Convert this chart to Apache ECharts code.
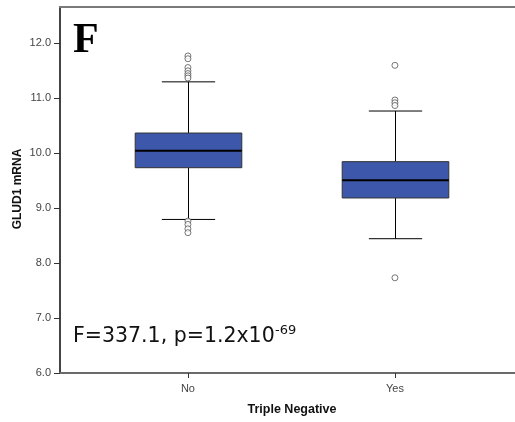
<!DOCTYPE html>
<html>
<head>
<meta charset="utf-8">
<script src="https://cdn.jsdelivr.net/npm/echarts@6/dist/echarts.min.js"></script>
<style>
html,body{margin:0;padding:0;background:#fff;}
#chart{width:515px;height:422px;}
</style>
</head>
<body>
<div id="chart"></div>
<script>
// ---- data ----
const categories = ['No', 'Yes'];
const whiskerLow  = [8.79, 8.44];
const q1          = [9.73, 9.18];
const median      = [10.04, 9.50];
const q3          = [10.36, 9.84];
const whiskerHigh = [11.29, 10.76];
const outliersNo  = [11.76, 11.71, 11.55, 11.49, 11.44, 11.40, 11.36, 8.76, 8.70, 8.62, 8.55];
const outliersYes = [11.59, 10.96, 10.91, 10.86, 7.73];
const yTicks      = [6, 7, 8, 9, 10, 11, 12];

const boxData = categories.map((c, i) => [i, whiskerLow[i], q1[i], median[i], q3[i], whiskerHigh[i]]);
const outlierData = outliersNo.map(v => [0, v]).concat(outliersYes.map(v => [1, v]));

const BOX_W = 0.515;

function renderBox(params, api) {
  const x = api.value(0);
  const lo = api.coord([x, api.value(1)]);
  const b1 = api.coord([x, api.value(2)]);
  const md = api.coord([x, api.value(3)]);
  const b3 = api.coord([x, api.value(4)]);
  const hi = api.coord([x, api.value(5)]);
  const bw = api.size([BOX_W, 0])[0];
  const cw = bw / 2;
  const cx = Math.round(lo[0]) + 0.5;
  const lineStyle = { stroke: '#000', lineWidth: 1 };
  return {
    type: 'group',
    children: [
      { type: 'line', shape: { x1: cx, y1: lo[1], x2: cx, y2: b1[1] }, style: lineStyle },
      { type: 'line', shape: { x1: cx, y1: b3[1], x2: cx, y2: hi[1] }, style: lineStyle },
      { type: 'line', shape: { x1: cx - cw / 2, y1: lo[1], x2: cx + cw / 2, y2: lo[1] }, style: lineStyle },
      { type: 'line', shape: { x1: cx - cw / 2, y1: hi[1], x2: cx + cw / 2, y2: hi[1] }, style: lineStyle },
      { type: 'rect', shape: { x: cx - bw / 2, y: b3[1], width: bw, height: b1[1] - b3[1] },
        style: { fill: '#3d58aa', stroke: '#333', lineWidth: 1 } },
      { type: 'line', shape: { x1: cx - bw / 2, y1: md[1], x2: cx + bw / 2, y2: md[1] },
        style: { stroke: '#000', lineWidth: 2 } }
    ]
  };
}

const chart = echarts.init(document.getElementById('chart'), null, { renderer: 'canvas' });
chart.setOption({
  animation: false,
  backgroundColor: '#fff',
  grid: { left: 60, right: 0, top: 7, bottom: 49, containLabel: false, outerBoundsMode: 'none' },
  xAxis: [{
    type: 'value',
    min: -0.618, max: 1.580,
    splitLine: { show: false },
    axisLine: { show: true, onZero: false, lineStyle: { color: '#6a6a6a', width: 2 } },
    axisTick: { show: true, customValues: [0, 1], length: 5, lineStyle: { color: '#333', width: 1 } },
    axisLabel: { customValues: [0, 1], formatter: v => categories[Math.round(v)], color: '#444',
      fontFamily: 'Liberation Sans, Arial, sans-serif', fontSize: 11, margin: 10 },
    name: 'Triple Negative',
    nameLocation: 'middle',
    nameGap: 30,
    nameTextStyle: { fontFamily: 'Liberation Sans, Arial, sans-serif', fontWeight: 'bold', fontSize: 12.5, color: '#111',
      padding: [0, 0, 0, 9] }
  }, {
    type: 'value',
    position: 'top',
    min: -0.618, max: 1.580,
    splitLine: { show: false },
    axisLine: { show: true, onZero: false, lineStyle: { color: '#7a7a7a', width: 2 } },
    axisTick: { show: false },
    axisLabel: { show: false }
  }],
  yAxis: {
    type: 'value',
    min: 6, max: 12.65,
    splitLine: { show: false },
    axisLine: { show: true, onZero: false, lineStyle: { color: '#444', width: 2 } },
    axisTick: { show: true, customValues: yTicks, length: 6, lineStyle: { color: '#333' } },
    axisLabel: { customValues: yTicks, formatter: v => v.toFixed(1), color: '#444',
      fontFamily: 'Liberation Sans, Arial, sans-serif', fontSize: 11, margin: 9 }
  },
  series: [
    { type: 'custom', renderItem: renderBox, data: boxData, encode: { x: 0, y: [1, 2, 3, 4, 5] }, z: 3 },
    { type: 'scatter', data: outlierData, symbol: 'circle', symbolSize: 6,
      itemStyle: { color: '#fff', borderColor: '#555', borderWidth: 1 }, z: 4 }
  ],
  graphic: [
    { type: 'text', x: 18, y: 189, rotation: Math.PI / 2,
      style: { text: 'GLUD1 mRNA', font: 'bold 12px "Liberation Sans", Arial, sans-serif', fill: '#111',
        align: 'center', verticalAlign: 'middle' } },
    { type: 'text', left: 73, top: 20, style: { text: 'F', font: 'bold 42px "Liberation Serif", "Times New Roman", serif', fill: '#000' } },
    { type: 'text', left: 73, top: 326, style: { text: 'F=337.1, p=1.2x10', font: '20.5px "DejaVu Sans", sans-serif', fill: '#111' } },
    { type: 'text', left: 275, top: 324, style: { text: '-69', font: '13px "DejaVu Sans", sans-serif', fill: '#111' } }
  ]
});
</script>
</body>
</html>
